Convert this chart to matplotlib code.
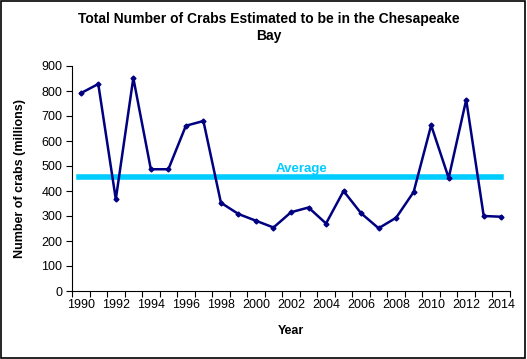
import numpy as np
import matplotlib
matplotlib.use('Agg')
import matplotlib.pyplot as plt
from matplotlib.patches import Rectangle

plt.rcParams['font.family'] = ['Liberation Sans', 'DejaVu Sans']

# ---- data ----
years = list(range(1990, 2015))
crabs = [791, 828, 367, 852, 487, 487, 661, 680, 353, 308, 281, 254, 315,
         334, 270, 400, 311, 251, 293, 396, 663, 452, 765, 300, 297]
average = 455
yticks = list(range(0, 1000, 100))

x = np.arange(len(years))

fig = plt.figure(figsize=(5.27, 3.59), dpi=100)
ax = fig.add_axes([72 / 527, 1 - 291 / 359, 438 / 527, 225 / 359])

ax.plot(x, crabs, color='#000080', linewidth=1.8, marker='D', markersize=2.5, zorder=3)
ax.plot([x[0] - 0.1, x[-1]], [average, average], color='#00CCFF', linewidth=4, zorder=2)
ax.text(12.6, average + 8, 'Average', color='#00CCFF', fontsize=9.5, fontweight='bold',
        ha='center', va='bottom')

ax.set_xlim(-0.5, len(years) - 0.5)
ax.set_ylim(0, 900)
ax.set_yticks(yticks)
ax.tick_params(axis='y', labelsize=9, length=4, direction='out', pad=3)

# tick marks at category boundaries, labels at every other category
ax.set_xticks(np.arange(-0.5, len(years), 1.0))
ax.set_xticklabels([])
ax.tick_params(axis='x', which='major', length=4, direction='out')
ax.set_xticks(x[::2], minor=True)
ax.set_xticklabels([str(y) for y in years[::2]], minor=True)
ax.tick_params(axis='x', which='minor', length=0, labelsize=9, pad=6)

for side in ['top', 'right']:
    ax.spines[side].set_visible(False)

ax.set_xlabel('Year', fontsize=9, fontweight='bold', labelpad=10)
ax.set_ylabel('Number of crabs (millions)', fontsize=9, fontweight='bold', labelpad=11)

fig.text(0.51, 1 - 27.5 / 359, 'Total Number of Crabs Estimated to be in the Chesapeake\nBay',
         ha='center', va='center', fontsize=10, fontweight='bold', linespacing=1.3)

fig.patches.append(Rectangle((0.002, 0.003), 0.995, 0.994, transform=fig.transFigure,
                             fill=False, edgecolor='black', linewidth=1.2))

plt.savefig('out.png', dpi=100)
